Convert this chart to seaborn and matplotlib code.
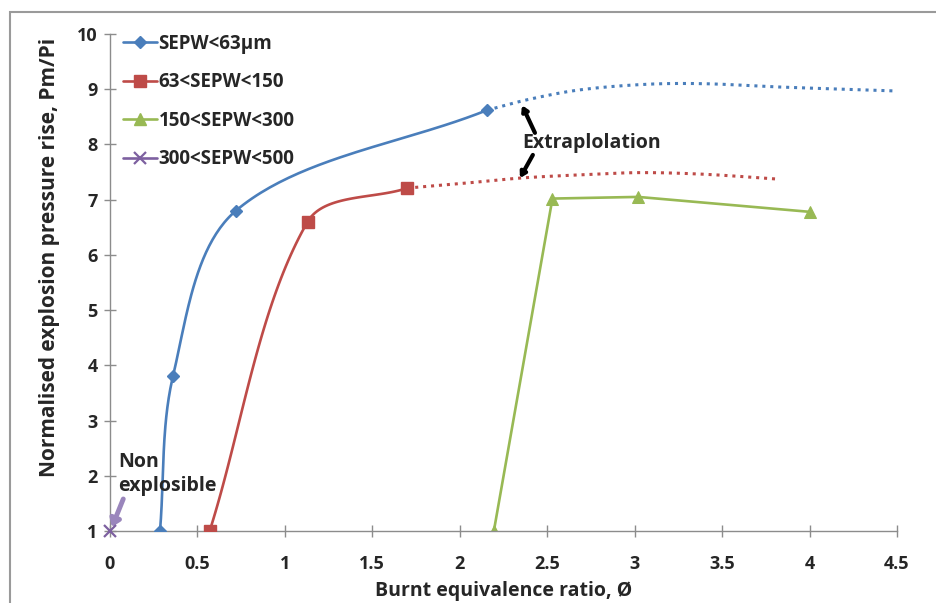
import numpy as np
import matplotlib
matplotlib.use("Agg")
import matplotlib.pyplot as plt
import seaborn as sns
from matplotlib.lines import Line2D
from matplotlib.patches import Rectangle

# ---- data ----
blue_x = [0.286, 0.36, 0.72, 2.155]
blue_y = [1.0, 3.8, 6.8, 8.62]
red_x = [0.57, 1.13, 1.70]
red_y = [1.0, 6.6, 7.21]
green_x = [2.195, 2.53, 3.02, 4.0]
green_y = [1.0, 7.02, 7.05, 6.78]
purple_x = [0.0]
purple_y = [1.0]
# dotted extrapolation curves
blue_ext_x = [2.155, 2.40, 2.69, 3.07, 3.40, 3.83, 4.48]
blue_ext_y = [8.62, 8.82, 8.99, 9.09, 9.10, 9.04, 8.97]
red_ext_x = [1.70, 2.00, 2.34, 2.69, 3.03, 3.40, 3.83]
red_ext_y = [7.21, 7.29, 7.39, 7.45, 7.49, 7.46, 7.37]

labels = ["SEPW<63µm", "63<SEPW<150", "150<SEPW<300", "300<SEPW<500"]
x_ticks = [0, 0.5, 1, 1.5, 2, 2.5, 3, 3.5, 4, 4.5]
x_ticklabels = ["0", "0.5", "1", "1.5", "2", "2.5", "3", "3.5", "4", "4.5"]
y_ticks = list(range(1, 11))

C_BLUE = "#4A7EBB"
C_RED = "#BE4B48"
C_GREEN = "#98B954"
C_PURPLE = "#7D60A0"
C_TEXT = "#262626"
FONT = ["Open Sans", "DejaVu Sans"]

# approximate screen scale (px per data unit) used for the smoothing only
SX, SY = 174.9, 55.22


def smooth(xs, ys, n=50):
    """Excel-like smoothed line: Bezier with chord-length scaled tangents."""
    P = np.column_stack([np.asarray(xs) * SX, np.asarray(ys) * SY]).astype(float)
    m = len(P)
    d = np.linalg.norm(np.diff(P, axis=0), axis=1)
    T = np.zeros_like(P)
    for i in range(m):
        if 0 < i < m - 1:
            T[i] = (P[i + 1] - P[i - 1]) / (d[i - 1] + d[i])
        elif i == 0:
            T[i] = (P[1] - P[0]) / d[0]
        else:
            T[i] = (P[-1] - P[-2]) / d[-1]
    out = [P[0]]
    t = np.linspace(0, 1, n)[1:][:, None]
    for i in range(m - 1):
        p1, p2 = P[i], P[i + 1]
        c1 = p1 + T[i] * d[i] / 3.0
        c2 = p2 - T[i + 1] * d[i] / 3.0
        seg = ((1 - t) ** 3) * p1 + 3 * ((1 - t) ** 2) * t * c1 + 3 * (1 - t) * t ** 2 * c2 + t ** 3 * p2
        out.extend(seg)
    out = np.array(out)
    return out[:, 0] / SX, out[:, 1] / SY


sns.set_theme(style="white")
plt.rcParams["font.family"] = FONT
plt.rcParams["font.weight"] = "bold"

fig = plt.figure(figsize=(9.36, 6.03), dpi=100)
ax = fig.add_axes([0.1175, 0.1194, 0.8408, 0.8242])

dot = (0, (1, 1.6))

# blue
bx, by = smooth(blue_x, blue_y)
sns.lineplot(x=bx, y=by, sort=False, estimator=None, ax=ax, color=C_BLUE, lw=1.9)
ex, ey = smooth(blue_ext_x, blue_ext_y)
ax.plot(ex, ey, color=C_BLUE, lw=2.2, linestyle=dot, dash_capstyle="butt")
ax.plot(blue_x, blue_y, linestyle="none", marker="D", ms=6, color=C_BLUE, zorder=5)

# red
rx, ry = smooth(red_x, red_y)
sns.lineplot(x=rx, y=ry, sort=False, estimator=None, ax=ax, color=C_RED, lw=1.9)
ex, ey = smooth(red_ext_x, red_ext_y)
ax.plot(ex, ey, color=C_RED, lw=2.2, linestyle=dot, dash_capstyle="butt")
ax.plot(red_x, red_y, linestyle="none", marker="s", ms=8.5, color=C_RED, zorder=5)

# green (straight)
sns.lineplot(x=green_x, y=green_y, sort=False, estimator=None, ax=ax, color=C_GREEN, lw=1.9,
             marker="^", markersize=8, markeredgecolor=C_GREEN)

# purple
ax.plot(purple_x, purple_y, linestyle="none", marker="x", ms=8, mew=1.6, color=C_PURPLE,
        zorder=5, clip_on=False)

ax.set_xlim(0, 4.5)
ax.set_ylim(1, 10)
ax.set_xticks(x_ticks)
ax.set_xticklabels(x_ticklabels)
ax.set_yticks(y_ticks)
for s in ["top", "right"]:
    ax.spines[s].set_visible(False)
for s in ["left", "bottom"]:
    ax.spines[s].set_color("#8C8C8C")
    ax.spines[s].set_linewidth(1.0)
ax.tick_params(axis="both", direction="inout", length=8, width=1, color="#8C8C8C",
               labelsize=13, labelcolor=C_TEXT, left=True, bottom=True)
ax.tick_params(axis="x", pad=13)
ax.tick_params(axis="y", pad=5)
for lab in ax.get_xticklabels() + ax.get_yticklabels():
    lab.set_fontweight("bold")

ax.set_xlabel("Burnt equivalence ratio, Ø", fontsize=14, fontweight="bold", color=C_TEXT, labelpad=6)
ax.set_ylabel("Normalised explosion pressure rise, Pm/Pi", fontsize=15, fontweight="bold",
              color=C_TEXT)
ax.yaxis.set_label_coords(-0.064, 0.55)

# legend
handles = [
    Line2D([], [], color=C_BLUE, lw=1.9, marker="D", ms=6),
    Line2D([], [], color=C_RED, lw=1.9, marker="s", ms=8.5),
    Line2D([], [], color=C_GREEN, lw=1.9, marker="^", ms=8),
    Line2D([], [], color=C_PURPLE, lw=1.9, marker="x", ms=8, mew=1.6),
]
leg = ax.legend(handles, labels, loc="upper left", bbox_to_anchor=(0.0165, 1.0), frameon=False,
                fontsize=13.5, handlelength=1.8, handletextpad=0.1, labelspacing=0.98,
                borderaxespad=0.0, borderpad=0.0)
for t in leg.get_texts():
    t.set_color(C_TEXT)
    t.set_fontweight("bold")

# annotations
ax.text(2.356, 8.03, "Extraplolation", fontsize=14, fontweight="bold", color=C_TEXT,
        ha="left", va="center")
arrow_kw = dict(arrowstyle="-|>,head_length=0.25,head_width=0.15", color="black", lw=3,
                shrinkA=0, shrinkB=0)
ax.annotate("", xy=(2.356, 8.71), xytext=(2.43, 8.21), arrowprops=arrow_kw)
ax.annotate("", xy=(2.344, 7.39), xytext=(2.418, 7.81), arrowprops=arrow_kw)

ax.text(0.046, 2.03, "Non\nexplosible", fontsize=14, fontweight="bold", color=C_TEXT,
        ha="left", va="center", linespacing=1.25)
ax.annotate("", xy=(0.011, 1.07), xytext=(0.076, 1.58),
            arrowprops=dict(arrowstyle="-|>,head_length=0.35,head_width=0.25", color="#9A86BC",
                            lw=3.5, shrinkA=0, shrinkB=0))

# outer frame
fig.patches.append(Rectangle((10 / 936, -0.05), 1.1, (603 - 12) / 603 + 0.05, transform=fig.transFigure,
                             fill=False, edgecolor="#9A9A9A", lw=1.5))

fig.savefig("out.png", dpi=100)
